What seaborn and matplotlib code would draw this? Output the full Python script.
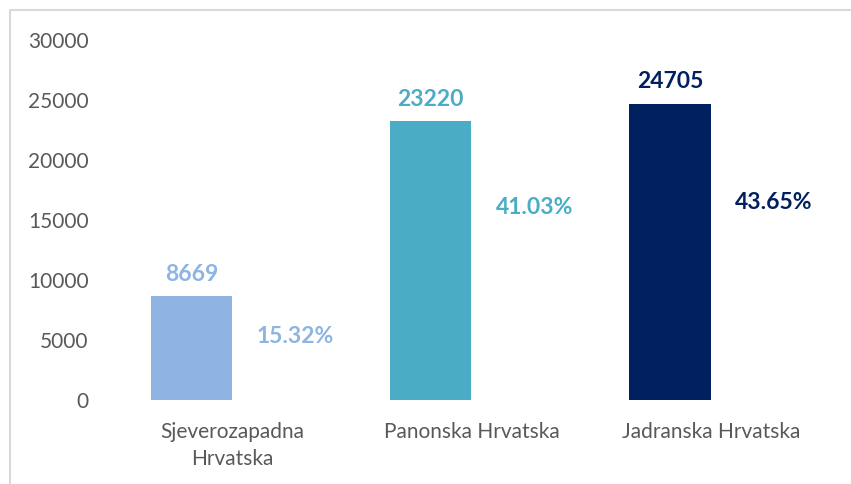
import pandas as pd
import matplotlib.pyplot as plt
import seaborn as sns
from matplotlib.lines import Line2D

# data
regions = ['Sjeverozapadna\nHrvatska', 'Panonska Hrvatska', 'Jadranska Hrvatska']
counts = [8669, 23220, 24705]
shares = ['15.32%', '41.03%', '43.65%']
share_label_y = [5250, 16080, 16420]
colors = ['#8DB4E2', '#4BACC6', '#002060']

df = pd.DataFrame({
    'region': regions * 2,
    'series': ['broj'] * 3 + ['udio'] * 3,
    'value': counts + [0, 0, 0],
})

sns.set_style('white')
plt.rcParams['font.family'] = ['Lato', 'DejaVu Sans']

fig = plt.figure(figsize=(8.51, 4.84), dpi=100)
ax = fig.add_axes([0.132, 0.1736, 0.844, 0.7438])

sns.barplot(data=df, x='region', y='value', hue='series', width=0.68,
            dodge=True, legend=False, ax=ax, saturation=1)

# colour each visible bar by region, hide the helper series
for patch, c in zip(ax.containers[0], colors):
    patch.set_facecolor(c)
    patch.set_edgecolor('none')
for patch in ax.containers[1]:
    patch.set_visible(False)

# value labels above bars
for patch, v, c in zip(ax.containers[0], counts, colors):
    ax.annotate(str(v), (patch.get_x() + patch.get_width() / 2, v),
                xytext=(0, 8), textcoords='offset points',
                ha='center', va='bottom', fontsize=16.5,
                fontweight='bold', color=c)

# share labels next to bars
for patch, s, y, c in zip(ax.containers[1], shares, share_label_y, colors):
    ax.annotate(s, (patch.get_x() + patch.get_width() / 2, y),
                xytext=(16, 0), textcoords='offset points',
                ha='center', va='center', fontsize=16.5,
                fontweight='bold', color=c)

ax.set_ylim(0, 30000)
ax.set_xlim(-0.5, 2.5)
ax.set_yticks(range(0, 30001, 5000))
ax.set_xlabel('')
ax.set_ylabel('')
sns.despine(ax=ax, left=True, bottom=True)
ax.tick_params(axis='y', length=0, pad=17, labelsize=15, labelcolor='#595959')
ax.tick_params(axis='x', length=0, pad=16, labelsize=15, labelcolor='#595959')
for lbl in ax.get_xticklabels():
    lbl.set_linespacing(1.45)

# chart border (top and left visible)
fig.add_artist(Line2D([10 / 851, 1.0], [1 - 10 / 484] * 2,
                      color='#D9D9D9', lw=1.5))
fig.add_artist(Line2D([10 / 851] * 2, [0.0, 1 - 10 / 484],
                      color='#D9D9D9', lw=1.5))

plt.savefig('out.png', dpi=100)
